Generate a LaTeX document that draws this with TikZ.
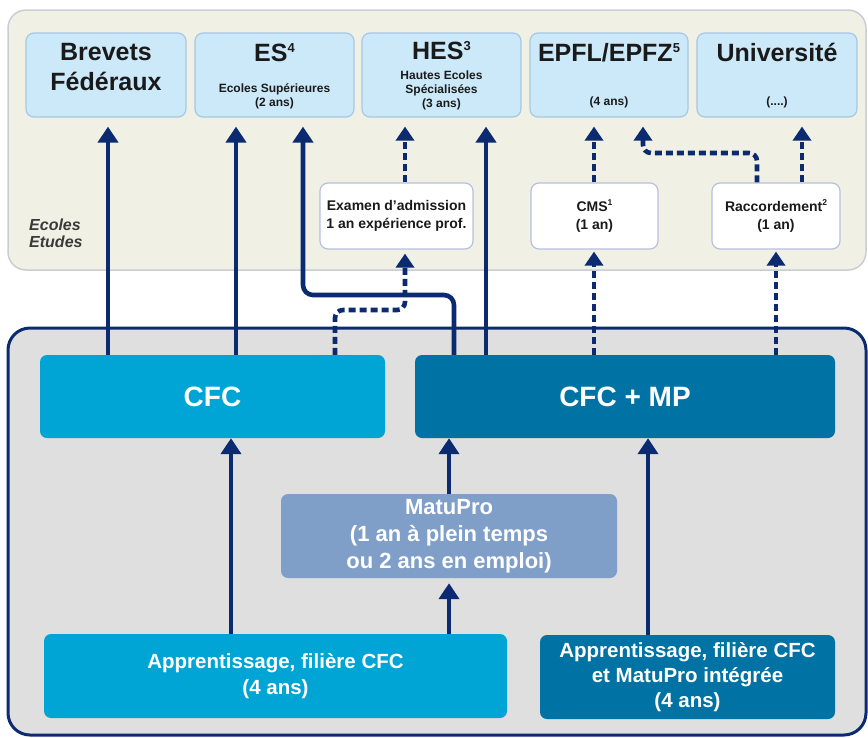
\documentclass[tikz,border=0pt]{standalone}
\usepackage{fontspec}
\setmainfont{Liberation Sans}
\usetikzlibrary{arrows.meta}
\definecolor{navy}{HTML}{0B2A6F}
\definecolor{topfill}{HTML}{F0F0E4}
\definecolor{topline}{HTML}{C9CDD6}
\definecolor{lbfill}{HTML}{CCE9FA}
\definecolor{lbline}{HTML}{A6C8E4}
\definecolor{wline}{HTML}{B8C0E0}
\definecolor{botfill}{HTML}{DFDFDF}
\definecolor{cyanbox}{HTML}{00A5D5}
\definecolor{tealbox}{HTML}{0072A3}
\definecolor{matubox}{HTML}{7F9FC8}
\definecolor{txt}{HTML}{1A1A1A}
\definecolor{etud}{HTML}{3A3A3A}
\newcommand{\bigsup}[1]{\raisebox{8.5pt}{\fontsize{13}{13}\selectfont #1}}
\newcommand{\smallsup}[1]{\raisebox{5.5pt}{\fontsize{8.5}{9}\selectfont #1}}
\begin{document}
\begin{tikzpicture}[x=1pt,y=-1pt,
  schoolbox/.style={draw=lbline, line width=1.2pt, fill=lbfill, rounded corners=8pt, minimum height=84pt, inner sep=0pt},
  whitebox/.style={draw=wline, line width=1.2pt, fill=white, rounded corners=8pt, minimum height=66pt, inner sep=0pt, align=center, text=txt, font=\fontsize{14}{18}\selectfont\bfseries},
  darkbox/.style={rounded corners=7pt, inner sep=0pt, align=center, text=white},
  ttl/.style={text=txt, font=\fontsize{25}{30}\selectfont\bfseries, align=center, inner sep=0pt},
  subtxt/.style={text=txt, font=\fontsize{12}{14}\selectfont\bfseries, align=center, inner sep=0pt},
  sol/.style={draw=navy, line width=4.6pt, -{Triangle[width=20pt,length=16pt]}},
  dsh/.style={draw=navy, line width=4.6pt, dash pattern=on 7pt off 4pt, -{Triangle[width=18pt,length=14pt]}},
]
\useasboundingbox (0,0) rectangle (868,737);
% panels
\draw[draw=topline, line width=1.5pt, fill=topfill, rounded corners=18pt] (8,10) rectangle (866,270);
\draw[draw=navy, line width=3pt, fill=botfill, rounded corners=22pt] (8,328) rectangle (866,735);

% top schools
\node[schoolbox, minimum width=160pt] (brevets) at (106,75) {};
\node[ttl] (brevetsT) at (106,67) {Brevets\\Fédéraux};
\node[schoolbox, minimum width=159pt] (es) at (274.5,75) {};
\node[ttl] (esT) at (274.5,52.5) {ES\bigsup{4}};
\node[subtxt] (esS) at (274.5,96.5) {Ecoles Supérieures\\(2 ans)};
\node[schoolbox, minimum width=159pt] (hes) at (441.5,75) {};
\node[ttl] (hesT) at (441.5,50.5) {HES\bigsup{3}};
\node[subtxt] (hesS) at (441.5,90) {Hautes Ecoles\\Spécialisées\\(3 ans)};
\node[schoolbox, minimum width=158pt] (epfl) at (609,75) {};
\node[ttl] (epflT) at (609,52.5) {EPFL/EPFZ\bigsup{5}};
\node[subtxt] (epflS) at (609,102) {(4 ans)};
\node[schoolbox, minimum width=160pt] (univ) at (777,75) {};
\node[ttl] (univT) at (777,52.5) {Université};
\node[subtxt] (univS) at (777,102) {(....)};

% intermediate
\node[whitebox, minimum width=153pt] (exam) at (396.5,216) {Examen d'admission\\1 an expérience prof.};
\node[whitebox, minimum width=127pt] (cms) at (594.5,216) {CMS\smallsup{1}\\(1 an)};
\node[whitebox, minimum width=128pt] (racc) at (776,216) {Raccordement\smallsup{2}\\(1 an)};
\node[anchor=west, font=\fontsize{16}{17.5}\selectfont\bfseries\itshape, text=etud, align=left, inner sep=0pt] (etudes) at (29,233.5) {Ecoles\\Etudes};

% bottom boxes
\node[darkbox, fill=cyanbox, minimum width=345pt, minimum height=83pt, font=\fontsize{28}{32}\selectfont\bfseries] (cfc) at (212.5,396.5) {CFC};
\node[darkbox, fill=tealbox, minimum width=420pt, minimum height=83pt, font=\fontsize{28}{32}\selectfont\bfseries] (cfcmp) at (625,396.5) {CFC + MP};
\node[darkbox, fill=matubox, minimum width=336pt, minimum height=84pt, font=\fontsize{22}{27}\selectfont\bfseries] (matu) at (449,536) {MatuPro\\(1 an à plein temps\\ou 2 ans en emploi)};
\node[darkbox, fill=cyanbox, minimum width=463pt, minimum height=84pt, font=\fontsize{20.5}{26}\selectfont\bfseries] (appcfc) at (275.5,676) {Apprentissage, filière CFC\\(4 ans)};
\node[darkbox, fill=tealbox, minimum width=295pt, minimum height=84pt, font=\fontsize{20.5}{25}\selectfont\bfseries] (appmp) at (687.5,677) {Apprentissage, filière CFC\\et MatuPro intégrée\\(4 ans)};

% column coordinates
\coordinate (cB) at (108,0);
\coordinate (cE1) at (236,0);
\coordinate (esA) at (454,295);
\coordinate (esB) at (303,295);
\coordinate (cH2) at (486,0);
\coordinate (cHd) at (405,0);
\coordinate (exA) at (335,310);
\coordinate (exB) at (405,310);
\coordinate (cC) at (594,0);
\coordinate (cR) at (776,0);
\coordinate (cR2) at (802,0);
\coordinate (rA) at (757,153);
\coordinate (rB) at (643,153);
\coordinate (cApp) at (231,0);
\coordinate (cMat) at (449,0);
\coordinate (cAMP) at (648,0);

% connectors to top schools
\draw[sol, shorten >=9pt] (cfc.north -| cB) -- (brevets.south -| cB);
\draw[sol, shorten >=9pt] (cfc.north -| cE1) -- (es.south -| cE1);
\draw[sol, shorten >=9pt, rounded corners=10pt] (cfcmp.north -| esA) -- (esA) -- (esB) -- (es.south -| esB);
\draw[sol, shorten >=9pt] (cfcmp.north -| cH2) -- (hes.south -| cH2);
\draw[dsh, shorten >=9pt] (exam.north -| cHd) -- (hes.south -| cHd);
\draw[dsh, shorten >=4pt, rounded corners=8pt] (cfc.north -| exA) -- (exA) -- (exB) -- (exam.south -| exB);
\draw[dsh, shorten >=9pt] (cms.north -| cC) -- (epfl.south -| cC);
\draw[dsh, shorten >=2pt] (cfcmp.north -| cC) -- (cms.south -| cC);
\draw[dsh, shorten >=2pt] (cfcmp.north -| cR) -- (racc.south -| cR);
\draw[dsh, shorten >=9pt] (racc.north -| cR2) -- (univ.south -| cR2);
\draw[dsh, shorten >=9pt, rounded corners=8pt] (racc.north -| rA) -- (rA) -- (rB) -- (epfl.south -| rB);

% bottom connectors
\draw[sol] (appcfc.north -| cApp) -- (cfc.south -| cApp);
\draw[sol] (matu.north -| cMat) -- (cfcmp.south -| cMat);
\draw[sol, shorten >=5pt] (appcfc.north -| cMat) -- (matu.south -| cMat);
\draw[sol] (appmp.north -| cAMP) -- (cfcmp.south -| cAMP);
\end{tikzpicture}
\end{document}
